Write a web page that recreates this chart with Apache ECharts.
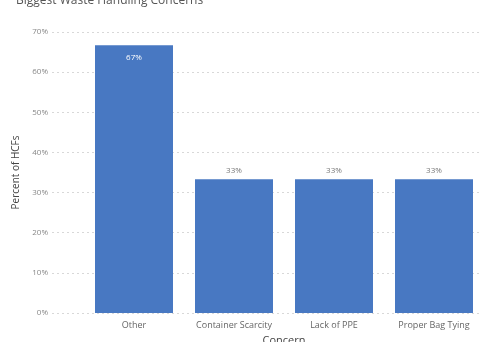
<!DOCTYPE html>
<html>
<head>
<meta charset="utf-8">
<script src="https://cdn.jsdelivr.net/npm/echarts@6/dist/echarts.min.js"></script>
<style>
  html, body { margin: 0; padding: 0; background: #fff; }
  #main { width: 484px; height: 342px; }
</style>
</head>
<body>
<div id="main"></div>
<script>
var concerns = ["Other", "Container Scarcity", "Lack of PPE", "Proper Bag Tying"];
var percentHCFs = [66.67, 33.33, 33.33, 33.33];
var yTicks = [0, 10, 20, 30, 40, 50, 60, 70];

var chart = echarts.init(document.getElementById("main"));
var font = "'Segoe UI', 'Open Sans', 'DejaVu Sans', sans-serif";

var option = {
  animation: false,
  textStyle: { fontFamily: font },
  title: {
    text: "Biggest Waste Handling Concerns",
    left: 11, top: -10,
    textStyle: { fontSize: 12, fontWeight: "normal", color: "#555", fontFamily: font }
  },
  grid: [
    { left: 52, right: 4, top: 32, bottom: 29, outerBoundsMode: "none", containLabel: false },
    { left: 84, right: 0, top: 32, bottom: 29, outerBoundsMode: "none", containLabel: false }
  ],
  xAxis: [
    { gridIndex: 0, type: "value", show: false },
    {
      gridIndex: 1, type: "category", data: concerns,
      axisLine: { show: false }, axisTick: { show: false },
      axisLabel: { color: "#666", fontSize: 9, margin: 8 },
      name: "Concern", nameLocation: "middle", nameGap: 22,
      nameTextStyle: { color: "#444", fontSize: 11 }
    }
  ],
  yAxis: [
    {
      gridIndex: 0, type: "value", min: 0, max: yTicks[yTicks.length - 1], interval: 10,
      axisLine: { show: false }, axisTick: { show: false },
      axisLabel: { color: "#888", fontSize: 8, margin: 4, formatter: "{value}%" },
      splitLine: { lineStyle: { color: "#d8d8d8", type: [2, 3], width: 1 } },
      name: "Percent of HCFs", nameLocation: "middle", nameGap: 28,
      nameTextStyle: { color: "#444", fontSize: 10 }
    },
    {
      gridIndex: 1, type: "value", min: 0, max: 70, interval: 10, show: false
    }
  ],
  series: [{
    type: "bar",
    xAxisIndex: 1, yAxisIndex: 1,
    data: percentHCFs.map(function (v, i) {
      return {
        value: v,
        label: i === 0
          ? { position: "insideTop", color: "#fff", distance: 8 }
          : { position: "top", color: "#777", distance: 4 }
      };
    }),
    barWidth: "78%",
    itemStyle: { color: "#4878c2" },
    label: {
      show: true, fontSize: 8,
      formatter: function (p) { return Math.round(p.value) + "%"; }
    }
  }]
};

chart.setOption(option);
</script>
</body>
</html>
